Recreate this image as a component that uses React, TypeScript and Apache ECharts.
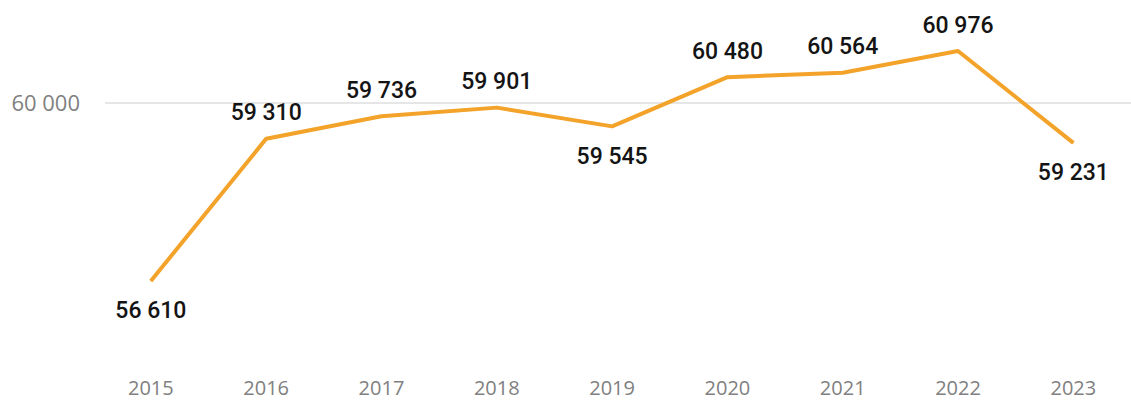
import React, { useEffect, useRef } from "react";
import * as echarts from "echarts";

const years = ["2015", "2016", "2017", "2018", "2019", "2020", "2021", "2022", "2023"];
const values = [56610, 59310, 59736, 59901, 59545, 60480, 60564, 60976, 59231];
const labelsBelow = ["2015", "2019", "2023"];
const refLineValue = 60000;

const fmt = (v: number) => String(v).replace(/\B(?=(\d{3})+(?!\d))/g, " ");

export default function App() {
  const ref = useRef<HTMLDivElement>(null);
  useEffect(() => {
    if (!ref.current) return;
    const chart = echarts.init(ref.current, undefined, { renderer: "svg" });
    chart.setOption({
      animation: false,
      grid: { left: 93.2, right: -20.6, top: 23.4, bottom: 37.2 },
      xAxis: {
        type: "category",
        data: years,
        boundaryGap: true,
        axisLine: { show: false },
        axisTick: { show: false },
        axisLabel: {
          color: "#808080",
          fontFamily: "Open Sans",
          fontSize: 20,
          lineHeight: 16,
          margin: 14,
        },
      },
      yAxis: {
        type: "value",
        min: 55000,
        max: 61500,
        show: false,
        splitLine: { show: false },
      },
      series: [
        {
          type: "line",
          data: years.map((y, i) => ({
            value: values[i],
            label: labelsBelow.includes(y)
              ? { position: "bottom", distance: 18 }
              : { position: "top", distance: 14 },
          })),
          z: 3,
          symbol: "circle",
          symbolSize: 1,
          itemStyle: { color: "#F3A32A" },
          lineStyle: { color: "#F3A32A", width: 4 },
          label: {
            show: true,
            color: "#141414",
            fontFamily: "Roboto",
            fontWeight: 500,
            fontSize: 23,
            formatter: (p: any) => fmt(p.value),
          },
          markLine: {
            z: 1,
            silent: true,
            symbol: "none",
            lineStyle: { color: "#e6e6e6", width: 2, type: "solid" },
            label: {
              show: true,
              position: "start",
              distance: 25,
              color: "#808080",
              fontFamily: "Open Sans",
              fontSize: 22,
              formatter: () => fmt(refLineValue),
            },
            data: [[{ yAxis: refLineValue, x: 105 }, { yAxis: refLineValue, x: 1131 }]],
          },
        },
      ],
    });
    return () => chart.dispose();
  }, []);
  return (
    <div
      ref={ref}
      style={{ position: "absolute", left: 0, top: 0, width: 1131, height: 403 }}
    />
  );
}
